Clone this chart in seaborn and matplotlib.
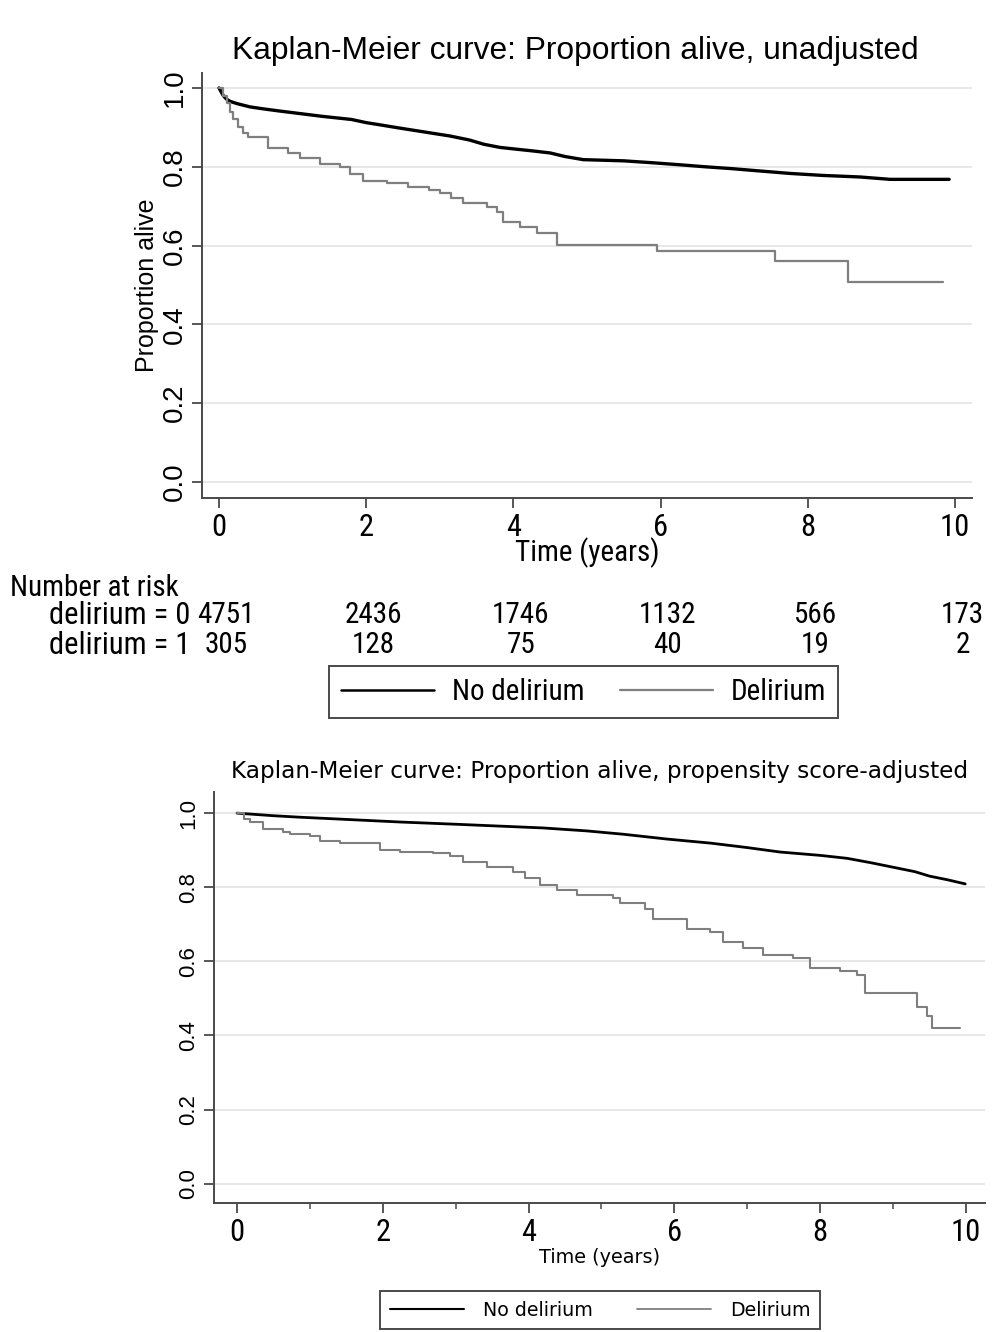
import matplotlib.pyplot as plt
import seaborn as sns
from matplotlib import font_manager
from matplotlib.font_manager import FontProperties
from matplotlib.transforms import blended_transform_factory

# --- Kaplan-Meier curve, unadjusted ---
t_nodel_unadj = [0, 0.03, 0.06, 0.1, 0.15, 0.25, 0.42, 0.6, 0.8, 1.1, 1.4, 1.8, 2.0, 2.2, 2.46,
                 2.8, 3.14, 3.4, 3.6, 3.82, 4.27, 4.5, 4.7, 4.95, 5.5, 5.9, 6.26, 6.6, 6.98,
                 7.3, 7.76, 8.2, 8.71, 9.12, 9.92]
s_nodel_unadj = [1.0, 0.99, 0.98, 0.972, 0.966, 0.96, 0.952, 0.947, 0.942, 0.935, 0.928, 0.92,
                 0.912, 0.906, 0.898, 0.888, 0.878, 0.868, 0.857, 0.849, 0.84, 0.835, 0.826,
                 0.818, 0.815, 0.81, 0.805, 0.8, 0.795, 0.79, 0.783, 0.778, 0.774, 0.768, 0.768]

t_del_unadj = [0, 0.05, 0.11, 0.15, 0.19, 0.26, 0.33, 0.4, 0.67, 0.94, 1.1, 1.37, 1.64, 1.78,
               1.96, 2.28, 2.57, 2.85, 3.0, 3.15, 3.32, 3.64, 3.78, 3.86, 4.09, 4.32, 4.59,
               5.95, 7.55, 8.55, 9.84]
s_del_unadj = [1.0, 0.98, 0.962, 0.94, 0.92, 0.9, 0.886, 0.876, 0.848, 0.835, 0.822, 0.808,
               0.8, 0.782, 0.765, 0.758, 0.748, 0.74, 0.733, 0.72, 0.708, 0.698, 0.684, 0.66,
               0.647, 0.632, 0.601, 0.586, 0.561, 0.508, 0.508]

# --- Kaplan-Meier curve, propensity score-adjusted ---
t_nodel_adj = [0, 0.5, 0.86, 1.5, 2.24, 3.0, 3.6, 4.2, 4.8, 5.3, 5.9, 6.5, 7.0, 7.45, 8.0,
               8.37, 8.7, 9.05, 9.3, 9.5, 9.75, 9.99]
s_nodel_adj = [1.0, 0.993, 0.989, 0.983, 0.976, 0.97, 0.965, 0.96, 0.952, 0.943, 0.93, 0.919,
               0.907, 0.895, 0.886, 0.878, 0.866, 0.852, 0.842, 0.83, 0.82, 0.809]

t_del_adj = [0, 0.1, 0.18, 0.36, 0.63, 0.73, 1.0, 1.14, 1.41, 1.96, 2.24, 2.69, 2.92, 3.1,
             3.43, 3.79, 3.95, 4.16, 4.39, 4.66, 5.16, 5.25, 5.6, 5.71, 6.17, 6.49, 6.67,
             6.94, 7.22, 7.63, 7.86, 8.27, 8.5, 8.61, 9.33, 9.46, 9.53, 9.92]
s_del_adj = [1.0, 0.985, 0.976, 0.957, 0.949, 0.943, 0.938, 0.925, 0.919, 0.9, 0.895, 0.892,
             0.884, 0.868, 0.855, 0.841, 0.825, 0.806, 0.792, 0.779, 0.771, 0.757, 0.74,
             0.714, 0.687, 0.679, 0.652, 0.636, 0.617, 0.609, 0.582, 0.574, 0.563, 0.515,
             0.477, 0.453, 0.42, 0.42]

# number at risk table
risk_times = [0, 2, 4, 6, 8, 10]
risk_nodel = [4751, 2436, 1746, 1132, 566, 173]
risk_del = [305, 128, 75, 40, 19, 2]

x_ticks = [0, 2, 4, 6, 8, 10]
y_ticks = [0.0, 0.2, 0.4, 0.6, 0.8, 1.0]

sns.set_theme(style='white')
plt.rcParams['font.family'] = ['Liberation Sans', 'DejaVu Sans']
for key in ['text.color', 'axes.labelcolor', 'xtick.color', 'ytick.color']:
    plt.rcParams[key] = 'black'


def find_condensed():
    """Look for a narrow / condensed regular face, like Stata's axis font."""
    keys = ['liberationsansnarrow-regular', 'robotocondensed-regular', 'dejavusanscondensed.ttf',
            'notosans-condensed.ttf', 'opensans-condensed']
    files = [f.fname for f in font_manager.fontManager.ttflist]
    for k in keys:
        for p in files:
            if k in p.lower().replace('_', '').replace(' ', ''):
                return p
    for p in files:
        low = p.lower()
        if ('condensed' in low or 'narrow' in low) and not any(
                w in low for w in ['bold', 'italic', 'light', 'thin', 'black', 'medium', 'extra', 'semi']):
            return p
    return None


COND = find_condensed()


def cond(size):
    if COND is not None:
        return FontProperties(fname=COND, size=size)
    return FontProperties(family='Liberation Sans', size=size * 0.72)


AX_COLOR = '#4a4a4a'
GRID_COLOR = '#e6e6e6'
GRAY = '#7f7f7f'


def style_axes(ax, ylab_size, xlab_size):
    sns.despine(ax=ax)
    for side in ['left', 'bottom']:
        ax.spines[side].set_color(AX_COLOR)
        ax.spines[side].set_linewidth(1.4)
    ax.set_yticks(y_ticks)
    ax.set_yticklabels([f'{v:.1f}' for v in y_ticks], rotation=90, va='center',
                       fontsize=ylab_size)
    ax.set_xticks(x_ticks)
    ax.set_xticklabels([str(v) for v in x_ticks], fontproperties=cond(xlab_size))
    ax.tick_params(axis='both', which='major', direction='out', length=7, width=1.3,
                   color=AX_COLOR, bottom=True, left=True, labelcolor='black')
    ax.yaxis.grid(True, color=GRID_COLOR, linewidth=1.3)
    ax.xaxis.grid(False)
    ax.set_axisbelow(True)


fig = plt.figure(figsize=(9.98, 13.32), dpi=100)

# ---------------- top panel ----------------
ax1 = fig.add_axes([0.2024, 0.6261, 0.7715, 0.3191])
sns.lineplot(x=t_nodel_unadj, y=s_nodel_unadj, ax=ax1, color='black', linewidth=2.4,
             estimator=None, sort=False)
sns.lineplot(x=t_del_unadj, y=s_del_unadj, ax=ax1, color=GRAY, linewidth=1.6,
             drawstyle='steps-post', estimator=None, sort=False)
ax1.set_xlim(-0.231, 10.23)
ax1.set_ylim(-0.041, 1.038)
style_axes(ax1, 20, 22)
ax1.set_title('Kaplan-Meier curve: Proportion alive, unadjusted', fontsize=22.9, pad=10,
              x=0.4844)
ax1.set_ylabel('Proportion alive', fontsize=18)
ax1.yaxis.set_label_coords(-0.056, 0.5)
ax1.set_xlabel('Time (years)', fontproperties=cond(21), labelpad=-3)

# number at risk
tr = blended_transform_factory(ax1.transData, fig.transFigure)
fig.text(10 / 998, 1 - 588 / 1332, 'Number at risk', fontproperties=cond(21),
         va='center', ha='left')
fig.text(190 / 998, 1 - 615 / 1332, 'delirium = 0', fontproperties=cond(22),
         va='center', ha='right')
fig.text(190 / 998, 1 - 645 / 1332, 'delirium = 1', fontproperties=cond(22),
         va='center', ha='right')
for t, n0, n1 in zip(risk_times, risk_nodel, risk_del):
    ax1.text(t + 0.1, 1 - 615 / 1332, str(n0), transform=tr, fontproperties=cond(21),
             ha='center', va='center')
    ax1.text(t + 0.1, 1 - 645 / 1332, str(n1), transform=tr, fontproperties=cond(21),
             ha='center', va='center')

h1 = [plt.Line2D([], [], color='black', linewidth=1.8),
      plt.Line2D([], [], color=GRAY, linewidth=1.6)]
leg1 = fig.legend(h1, ['No delirium', 'Delirium'], loc='center', ncol=2,
                  bbox_to_anchor=(583.5 / 998, 1 - 692 / 1332),
                  prop=cond(21), handlelength=3.2, columnspacing=1.2,
                  handletextpad=0.62, borderpad=0.4,
                  fancybox=False, edgecolor=AX_COLOR, framealpha=1)
leg1.get_frame().set_linewidth(1.4)

# ---------------- bottom panel ----------------
ax2 = fig.add_axes([0.2144, 1 - 1203 / 1332, 0.7725, (1203 - 792) / 1332])
sns.lineplot(x=t_nodel_adj, y=s_nodel_adj, ax=ax2, color='black', linewidth=2.0,
             estimator=None, sort=False)
sns.lineplot(x=t_del_adj, y=s_del_adj, ax=ax2, color=GRAY, linewidth=1.5,
             drawstyle='steps-post', estimator=None, sort=False)
ax2.set_xlim(-0.316, 10.26)
ax2.set_ylim(-0.052, 1.057)
style_axes(ax2, 16, 22)
ax2.set_xticks([1, 3, 5, 7, 9], minor=True)
ax2.tick_params(axis='x', which='minor', direction='out', length=4, width=1.1,
                color=AX_COLOR, bottom=True)
ax2.set_title('Kaplan-Meier curve: Proportion alive, propensity score-adjusted',
              fontsize=16.7, family='DejaVu Sans', pad=10)
ax2.set_xlabel('Time (years)', fontsize=13.9, family='DejaVu Sans', labelpad=1)
ax2.set_ylabel('')

h2 = [plt.Line2D([], [], color='black', linewidth=1.5),
      plt.Line2D([], [], color=GRAY, linewidth=1.3)]
leg2 = fig.legend(h2, ['No delirium', 'Delirium'], loc='center', ncol=2,
                  bbox_to_anchor=(600 / 998, 1 - 1310 / 1332),
                  prop={'family': 'DejaVu Sans', 'size': 13.7}, handlelength=3.9,
                  columnspacing=2.3, handletextpad=1.0, borderpad=0.5,
                  fancybox=False, edgecolor=AX_COLOR, framealpha=1)
leg2.get_frame().set_linewidth(1.4)

for ax in (ax1, ax2):
    if ax.get_legend() is not None:
        ax.get_legend().remove()

fig.savefig('out.png', dpi=100, facecolor='white')
plt.close(fig)
